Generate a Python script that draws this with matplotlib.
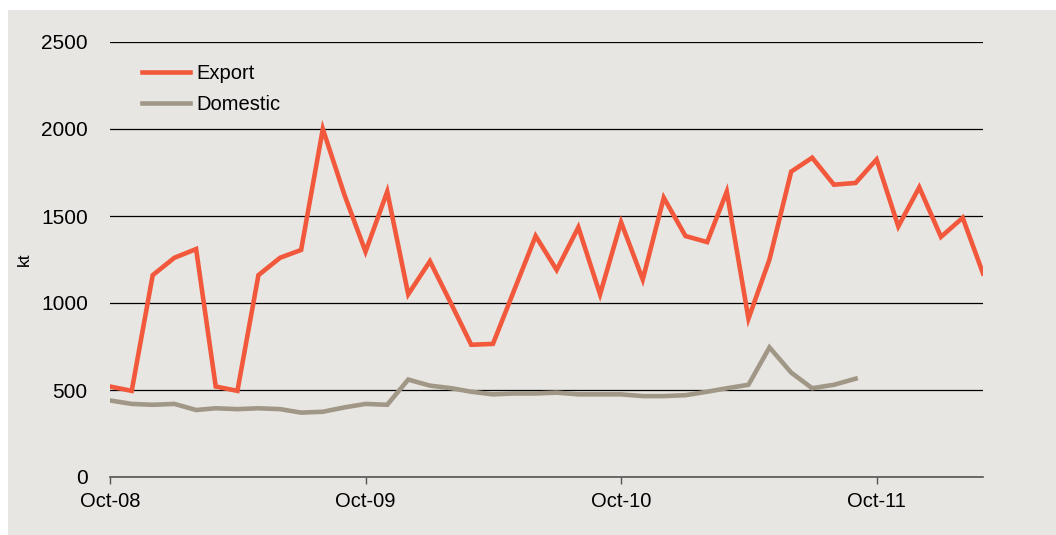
import matplotlib
matplotlib.use("Agg")
import matplotlib.pyplot as plt
import pandas as pd
from matplotlib.patches import Rectangle

# --- Data (kt, monthly from Oct-08) ---
export_kt = [520, 495, 1160, 1260, 1310, 520, 495, 1160, 1260, 1305,
             2000, 1620, 1295, 1640, 1050, 1240, 990, 760, 765, 1070,
             1385, 1190, 1435, 1050, 1465, 1135, 1605, 1385, 1350, 1640,
             910, 1250, 1755, 1835, 1680, 1690, 1825, 1440, 1665, 1380,
             1490, 1170]
domestic_kt = [440, 420, 415, 420, 385, 395, 390, 395, 390, 370,
               375, 400, 420, 415, 560, 525, 510, 490, 475, 480,
               480, 485, 475, 475, 475, 465, 465, 470, 490, 510,
               530, 745, 600, 510, 530, 565]
tick_labels = ["Oct-08", "Oct-09", "Oct-10", "Oct-11"]

months = pd.date_range("2008-10-01", periods=len(export_kt), freq="MS")
tick_dates = pd.to_datetime(["2008-10-01", "2009-10-01", "2010-10-01", "2011-10-01"])

BG = "#E8E6E2"
EXPORT_COL = "#F2583B"
DOMESTIC_COL = "#A19786"

plt.rcParams["font.family"] = ["Liberation Sans", "DejaVu Sans"]

fig = plt.figure(figsize=(10.56, 5.35), dpi=100, facecolor="white")
# grey panel behind the chart (white strip on the left and top)
fig.patches.append(Rectangle((8 / 1056, 0), 1, 525 / 535, transform=fig.transFigure,
                             facecolor=BG, edgecolor="none", zorder=-5))
ax = fig.add_axes([110 / 1056, 58 / 535, 873 / 1056, 435 / 535])
ax.set_facecolor(BG)

ax.plot(months, export_kt, color=EXPORT_COL, lw=3.3, label="Export",
        solid_joinstyle="miter", zorder=3)
ax.plot(months[:len(domestic_kt)], domestic_kt, color=DOMESTIC_COL, lw=3.3,
        label="Domestic", solid_joinstyle="miter", zorder=3)

ax.set_ylim(0, 2500)
ax.set_yticks(range(0, 2501, 500))
ax.set_xlim(months[0], months[-1])
ax.set_xticks(tick_dates)
ax.set_xticklabels(tick_labels)

ax.grid(axis="y", color="black", lw=0.9)
for s in ["top", "right", "left"]:
    ax.spines[s].set_visible(False)
ax.spines["bottom"].set_color("#555555")
ax.spines["bottom"].set_linewidth(1.2)
ax.tick_params(axis="y", length=0, pad=16, labelsize=15)
ax.tick_params(axis="x", length=5, width=1, color="#555555", direction="out",
               pad=6, labelsize=14.5)
ax.set_ylabel("kt", fontsize=12.5)
ax.yaxis.set_label_coords(-0.09, 0.5)

leg = ax.legend(loc="upper left", bbox_to_anchor=(0.016, 0.99), frameon=False,
                fontsize=14.5, handlelength=2.4, handletextpad=0.3, labelspacing=0.55)

fig.savefig("out.png", dpi=100, facecolor="white")
